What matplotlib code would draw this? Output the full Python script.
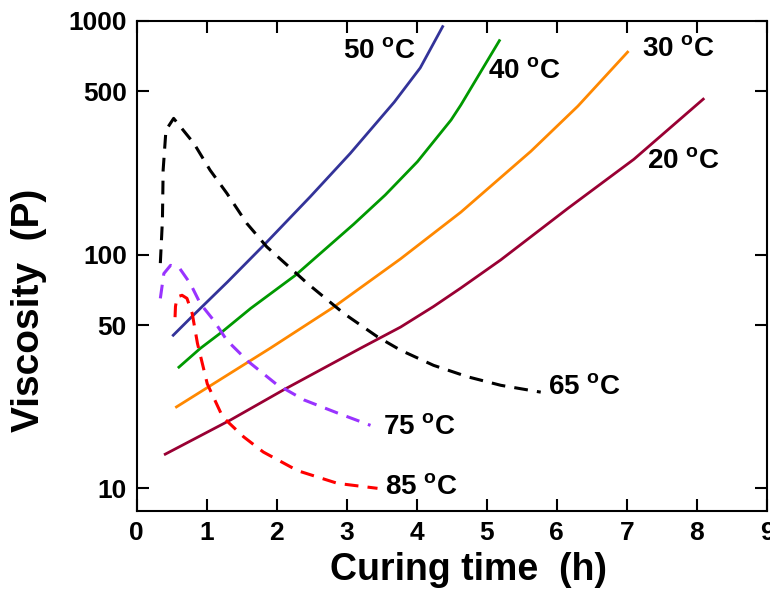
import matplotlib
matplotlib.use("Agg")
import matplotlib.pyplot as plt

plt.rcParams['font.family'] = ['Liberation Sans', 'DejaVu Sans']
plt.rcParams['font.weight'] = 'bold'
plt.rcParams['mathtext.default'] = 'regular'

# solid curves (curing temperature 20-50 C)
t50 = [0.524, 0.788, 1.3, 1.82, 2.48, 3.05, 3.68, 4.05, 4.37]
v50 = [45.2, 54.2, 76.5, 110, 177, 271, 450, 630, 946]
t40 = [0.605, 0.91, 1.22, 1.63, 2.27, 3.1, 3.55, 4.01, 4.49, 4.63, 5.18]
v40 = [33, 39.7, 46.7, 58.9, 81.7, 135, 180, 250, 377, 437, 824]
t30 = [0.57, 1.91, 2.82, 3.77, 4.63, 5.63, 6.3, 7.01]
v30 = [22.3, 39.8, 59.8, 96, 152, 277, 432, 736]
t20 = [0.41, 1.34, 2.1, 3.2, 3.77, 4.24, 4.63, 5.2, 6.16, 7.1, 8.09]
v20 = [14, 19.6, 26.4, 39.8, 49, 60, 72, 95, 158, 256, 463]

# dashed curves (65-85 C)
t65 = [0.34, 0.37, 0.38, 0.42, 0.53, 0.82, 1.05, 1.29, 1.575, 1.86, 2.44, 2.96,
       3.44, 3.77, 4.24, 4.73, 5.2, 5.77]
v65 = [92, 141, 230, 341, 383, 299, 230, 183, 136, 108, 75.3, 56,
       44.5, 39, 33.6, 30, 27.6, 25.8]
t75 = [0.34, 0.39, 0.486, 0.62, 0.77, 0.91, 1.1, 1.29, 1.59, 1.99, 2.39, 2.87, 3.34]
v75 = [65, 83, 90, 87, 75, 61.8, 52.4, 43, 35, 28, 23.9, 21, 18.6]
t85 = [0.55, 0.556, 0.58, 0.65, 0.72, 0.795, 0.87, 1.01, 1.23, 1.53, 1.81, 2.3, 2.87, 3.44]
v85 = [54, 60, 66, 67, 65, 56, 41.7, 28, 20.2, 16.6, 14.3, 11.9, 10.5, 10.0]

yticks = [10, 50, 100, 500, 1000]
xticks = list(range(10))

fig = plt.figure(figsize=(7.7, 5.91), dpi=100)
ax = fig.add_axes([0.1773, 0.1354, 0.8188, 0.8291])

ax.plot(t50, v50, color='#333399', lw=2)
ax.plot(t40, v40, color='#009900', lw=2)
ax.plot(t30, v30, color='#ff8800', lw=2)
ax.plot(t20, v20, color='#990033', lw=2)
ax.plot(t65, v65, color='black', lw=2.2, dashes=(4.5, 3))
ax.plot(t75, v75, color='#9933ff', lw=2.2, dashes=(4.5, 3))
ax.plot(t85, v85, color='#ff0000', lw=2.2, dashes=(4.5, 3))

lab = dict(fontsize=20, fontweight='bold', ha='center', va='center')
ax.text(3.46, 743, '50 $^{o}$C', **lab)
ax.text(5.53, 610, '40 $^{o}$C', **lab)
ax.text(7.73, 759, '30 $^{o}$C', **lab)
ax.text(7.81, 251, '20 $^{o}$C', **lab)
ax.text(6.39, 27.2, '65 $^{o}$C', **lab)
ax.text(4.04, 18.3, '75 $^{o}$C', **lab)
ax.text(4.07, 10.1, '85 $^{o}$C', **lab)

ax.set_yscale('log')
ax.set_xlim(0, 9)
ax.set_ylim(8, 1000)
ax.set_xticks(xticks)
ax.set_yticks(yticks)
ax.set_yticklabels([str(v) for v in yticks])
ax.minorticks_off()
ax.tick_params(direction='in', length=8.5, width=1.5, labelsize=19, pad=7,
               top=True, right=True)
for s in ax.spines.values():
    s.set_linewidth(1.5)

ax.set_xlabel('Curing time  (h)', fontsize=27, fontweight='bold')
ax.set_ylabel('Viscosity  (P)', fontsize=28, fontweight='bold')
ax.xaxis.set_label_coords(0.526, -0.083)
ax.yaxis.set_label_coords(-0.142, 0.41)

fig.savefig('out.png', dpi=100)
